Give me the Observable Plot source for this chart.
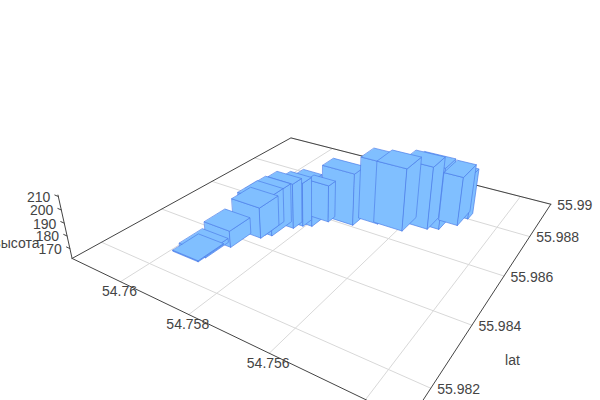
<!DOCTYPE html><html><body style="margin:0;background:#fff;overflow:hidden">
<script src="https://cdn.jsdelivr.net/npm/d3@7"></script>
<script src="https://cdn.jsdelivr.net/npm/@observablehq/plot@0.6"></script>
<script>
// Bars, back to front
const lonHigh=[54.75793,54.75708,54.75597,54.75616,54.75666,54.7553,54.75534,54.75839,54.75826,54.75866,54.75891,54.75917,54.75936,54.75941,54.75969,54.75991,54.75992];
const lonLow =[54.75703,54.75654,54.75516,54.75540,54.75588,54.75475,54.75485,54.75785,54.75763,54.75804,54.75818,54.75841,54.75857,54.75857,54.75891,54.75910,54.75913];
const latLow =[55.98608,55.98648,55.98709,55.98694,55.98651,55.9880,55.98753,55.98546,55.98588,55.98534,55.98512,55.98453,55.98447,55.98429,55.98356,55.98289,55.98267];
const latHigh=[55.98660,55.98715,55.98774,55.98765,55.98733,55.98835,55.98842,55.98591,55.98620,55.98573,55.98550,55.98536,55.98526,55.98504,55.98433,55.98370,55.98356];
const tops   =[204.4,213,211.9,212.6,212.5,200,201.9,199.5,192.4,197.8,198.6,194.1,190.1,186.8,175.2,165.3,162.8];
const lonTicks=[54.76,54.758,54.756,54.754];
const latTicks=[55.982,55.984,55.986,55.988,55.99];
const zTicks=[170,180,190,200,210];
const lonRange=[54.7532,54.76163];
const latRange=[55.98115,55.99];
const zRange=[162,211];
// Camera
const cam=[-48.48676,76.17607,612.95147,-8.06332,-12.29002,600.2111,0.06826,0.09977];
const nadir=[313,1342], zScale=0.00215;
function proj(lon,lat,z){const u=(lon-54.75)*1000,v=(lat-55.98)*1000,t=-(z-zRange[0])*zScale;
 const w=cam[6]*u+cam[7]*v+1+t;
 return [(cam[0]*u+cam[1]*v+cam[2]+t*nadir[0])/w,(cam[3]*u+cam[4]*v+cam[5]+t*nadir[1])/w];}
const X=d=>proj(d[0],d[1],d[2])[0],Y=d=>proj(d[0],d[1],d[2])[1];
const withKey=(pts,key)=>pts.map(p=>Object.assign([...p],{key}));
const faces=tops.flatMap((z,i)=>{const a=lonHigh[i],b=lonLow[i],c=latLow[i],e=latHigh[i],f=zRange[0];
 return [...withKey([[a,c,f],[b,c,f],[b,c,z],[a,c,z]],i+"s"),...withKey([[b,c,f],[b,e,f],[b,e,z],[b,c,z]],i+"e"),...withKey([[a,c,z],[b,c,z],[b,e,z],[a,e,z]],i+"t")];});
const [f0]=zRange,[lo0,lo1]=lonRange,[la0,la1]=latRange;
const grid=[...lonTicks.flatMap(l=>withKey([[l,la0,f0],[l,la1,f0]],"lon"+l)),...latTicks.flatMap(l=>withKey([[lo0,l,f0],[lo1,l,f0]],"lat"+l))];
const frame=[...withKey([[lo1,la0,f0],[lo1,la1,f0],[lo0,la1,f0]],"back"),...withKey([[lo1,la0,f0],[lo0,la0,f0]],"lonAxis"),...withKey([[lo0,la1,f0],[lo0,la0,f0]],"latAxis"),...withKey([[lo1,la0,zRange[0]],[lo1,la0,zRange[1]]],"zAxis"),
 ...zTicks.flatMap(z=>withKey([[lo1,la0,z],[lo1+0.00012,la0,z]],"zt"+z))];
const font="Liberation Sans, Arial, sans-serif", ink="#444";
const label=(data,o)=>Plot.text(data,{fontFamily:font,fontSize:14,fill:ink,lineAnchor:"middle",...o});
document.body.append(Plot.plot({width:600,height:400,margin:0,style:{background:"#fff"},
 x:{domain:[0,600],range:[0,600],axis:null},y:{domain:[0,400],range:[0,400],axis:null},
 marks:[
  Plot.line(grid,{x:X,y:Y,z:d=>d.key,stroke:"#d8d8d8",strokeWidth:1}),
  Plot.line(frame,{x:X,y:Y,z:d=>d.key,stroke:"#444",strokeWidth:1}),
  Plot.line(faces,{x:X,y:Y,z:d=>d.key,curve:"linear-closed",fill:"#80bfff",stroke:"#4f80ea",strokeWidth:0.7,strokeLinejoin:"round"}),
  label(lonTicks.slice(0,3),{x:d=>proj(d,la0,f0)[0],y:d=>proj(d,la0,f0)[1],dx:-1,dy:10,text:d=>String(d),textAnchor:"middle"}),
  label(latTicks,{x:d=>proj(lo0,d,f0)[0],y:d=>proj(lo0,d,f0)[1],dx:6.5,dy:1,text:d=>String(d),textAnchor:"start"}),
  label(zTicks,{x:d=>proj(lo1,la0,d)[0],y:d=>proj(lo1,la0,d)[1],dx:-8,dy:1,text:d=>String(d),textAnchor:"end"}),
  label(["высота"],{x:d=>39,y:d=>243,text:d=>d,textAnchor:"end"}),
  label(["lat"],{x:d=>512,y:d=>360,text:d=>d,textAnchor:"middle"})
 ]}));
</script></body></html>
